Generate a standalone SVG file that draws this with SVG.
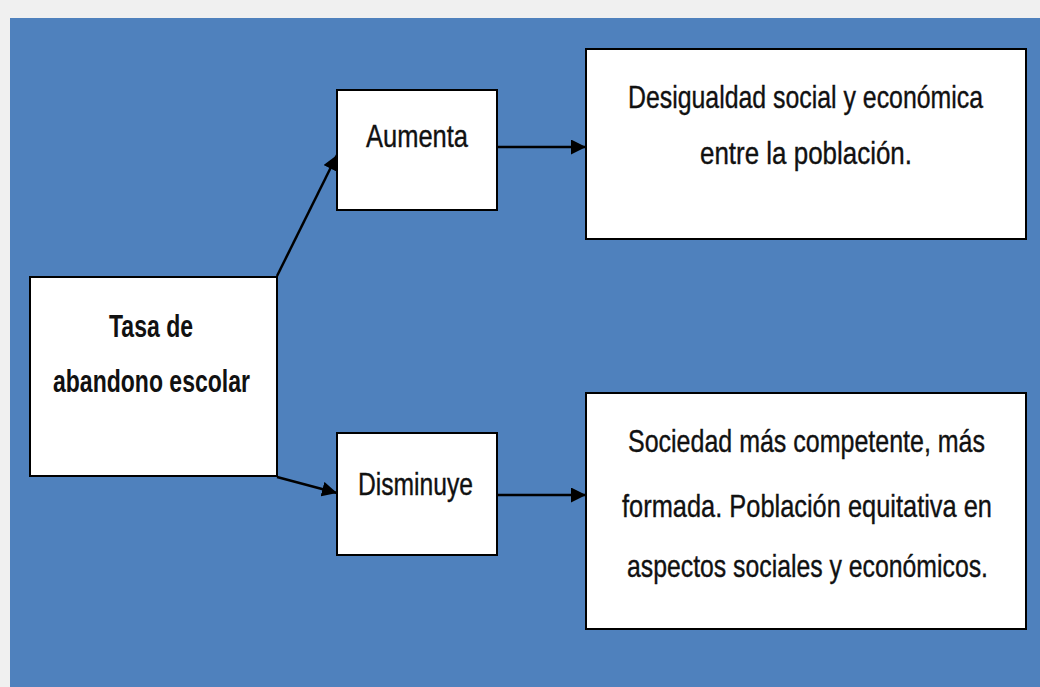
<svg xmlns="http://www.w3.org/2000/svg" width="1040" height="687" viewBox="0 0 1040 687">
<defs>
<style>
.box{fill:#ffffff;stroke:#000000;stroke-width:2}
.t{font-family:"Liberation Sans",Arial,sans-serif;font-size:25px;fill:#111111;stroke:#111111;stroke-width:0.3;text-anchor:start}
.b{font-weight:bold;stroke-width:0}
.c{stroke:#000000;stroke-width:2.5;fill:none}
</style>
<marker id="ah" viewBox="0 0 10 10" refX="10" refY="5" markerWidth="6" markerHeight="6" markerUnits="strokeWidth" orient="auto">
<path d="M0,0 L10,5 L0,10 z" fill="#000000"/>
</marker>
</defs>
<rect x="0" y="0" width="1040" height="687" fill="#f0f0f0"/>
<rect x="10" y="18" width="1030" height="669" fill="#4f81bd"/>
<g id="connectors">
<line class="c" x1="277" y1="276" x2="337" y2="155" marker-end="url(#ah)"/>
<line class="c" x1="277" y1="477" x2="337" y2="493" marker-end="url(#ah)"/>
<line class="c" x1="497" y1="147" x2="586" y2="147" marker-end="url(#ah)"/>
<line class="c" x1="497" y1="495" x2="586" y2="495" marker-end="url(#ah)"/>
</g>
<g id="node-tasa">
<rect class="box" x="30" y="277" width="247" height="199"/>
<text class="t b" transform="translate(109,337) scale(1,1.28)" x="0" y="0" textLength="84" lengthAdjust="spacingAndGlyphs">Tasa de</text>
<text class="t b" transform="translate(53,392) scale(1,1.28)" x="0" y="0" textLength="197" lengthAdjust="spacingAndGlyphs">abandono escolar</text>
</g>
<g id="node-aumenta">
<rect class="box" x="337" y="90" width="160" height="120"/>
<text class="t" transform="translate(366,147) scale(1,1.28)" x="0" y="0" textLength="102" lengthAdjust="spacingAndGlyphs">Aumenta</text>
</g>
<g id="node-disminuye">
<rect class="box" x="337" y="433" width="160" height="122"/>
<text class="t" transform="translate(358,495) scale(1,1.28)" x="0" y="0" textLength="115" lengthAdjust="spacingAndGlyphs">Disminuye</text>
</g>
<g id="node-desigualdad">
<rect class="box" x="586" y="49" width="440" height="190"/>
<text class="t" transform="translate(628,108) scale(1,1.28)" x="0" y="0" textLength="355" lengthAdjust="spacingAndGlyphs">Desigualdad social y económica</text>
<text class="t" transform="translate(700,164) scale(1,1.28)" x="0" y="0" textLength="212" lengthAdjust="spacingAndGlyphs">entre la población.</text>
</g>
<g id="node-sociedad">
<rect class="box" x="586" y="393" width="440" height="236"/>
<text class="t" transform="translate(628,452) scale(1,1.28)" x="0" y="0" textLength="357" lengthAdjust="spacingAndGlyphs">Sociedad más competente, más</text>
<text class="t" transform="translate(622,517) scale(1,1.28)" x="0" y="0" textLength="370" lengthAdjust="spacingAndGlyphs">formada. Población equitativa en</text>
<text class="t" transform="translate(627,577) scale(1,1.28)" x="0" y="0" textLength="361" lengthAdjust="spacingAndGlyphs">aspectos sociales y económicos.</text>
</g>
</svg>
